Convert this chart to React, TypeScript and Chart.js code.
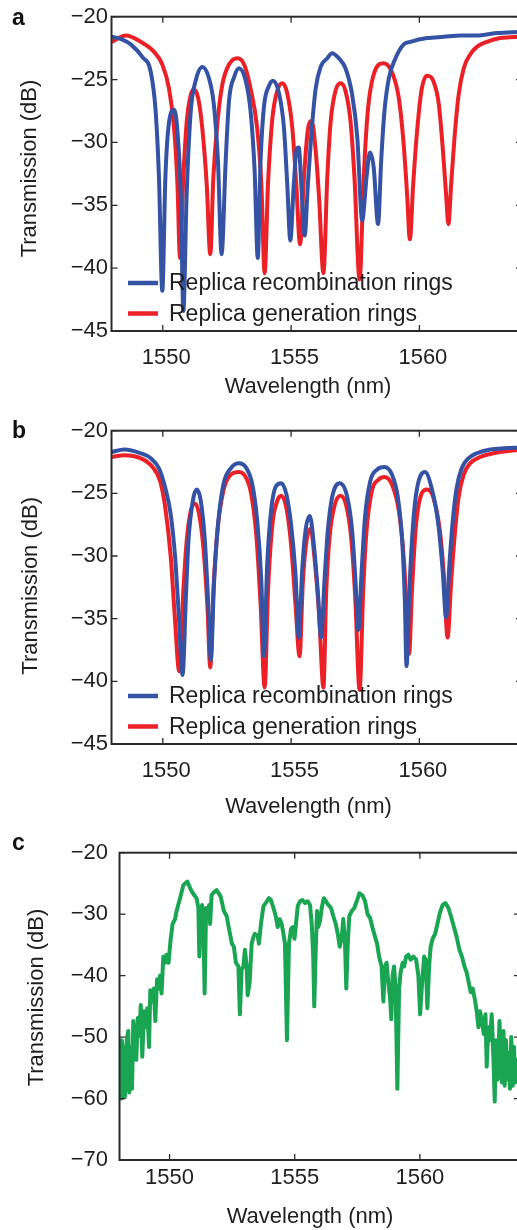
import React, { useEffect, useRef } from "react";
import { Chart, registerables } from "chart.js";

Chart.register(...registerables);

const FONT = '"Liberation Sans", Arial, Helvetica, sans-serif';
const TEXT = "#1e1e1e";
const AXIS = "#2a2a2a";
const BLUE = "#3553a4";
const RED = "#ec2027";
const GREEN = "#19a552";

// ---------- tick labels / categories ----------
const xTickValues = [1550, 1555, 1560];
const yTickValuesAB = [-20, -25, -30, -35, -40, -45];
const yTickValuesC = [-20, -30, -40, -50, -60, -70];
const seriesLabels = ["Replica recombination rings", "Replica generation rings"];

// ---------- panel a ----------
const aRecombWl = [1548.0, 1548.4, 1548.75, 1549.2, 1549.53, 1549.72, 1549.85, 1549.98, 1550.1, 1550.23, 1550.44, 1550.57, 1550.7, 1550.8, 1550.93, 1551.09, 1551.28, 1551.54, 1551.8, 1551.99, 1552.15, 1552.29, 1552.45, 1552.58, 1552.78, 1552.97, 1553.23, 1553.42, 1553.58, 1553.7, 1553.81, 1553.94, 1554.14, 1554.3, 1554.53, 1554.72, 1554.85, 1554.97, 1555.1, 1555.22, 1555.3, 1555.4, 1555.53, 1555.65, 1555.78, 1555.96, 1556.15, 1556.41, 1556.6, 1556.86, 1557.12, 1557.38, 1557.58, 1557.77, 1557.94, 1558.07, 1558.22, 1558.39, 1558.51, 1558.64, 1558.81, 1559.07, 1559.39, 1559.65, 1560.3, 1560.95, 1561.6, 1562.24, 1563.0, 1564.0];
const aRecombT = [-21.6, -21.8, -22.2, -23.2, -24.4, -27.5, -32.8, -41.8, -32.8, -28.6, -27.4, -29.1, -34.1, -43.4, -34.1, -27.5, -25.1, -24.0, -24.9, -27.0, -31.5, -38.9, -31.5, -26.7, -24.8, -24.1, -25.1, -27.5, -32.3, -39.2, -31.5, -27.2, -25.5, -25.1, -26.1, -28.8, -33.3, -37.8, -33.5, -30.5, -30.4, -33.5, -37.4, -33.5, -29.6, -25.7, -24.0, -23.3, -22.9, -23.3, -24.1, -26.2, -29.6, -36.2, -32.8, -30.8, -32.0, -36.5, -31.5, -27.5, -24.9, -23.3, -22.2, -22.0, -21.7, -21.6, -21.5, -21.5, -21.3, -21.2];

const aGenWl = [1548.0, 1548.56, 1549.14, 1549.66, 1549.98, 1550.24, 1550.44, 1550.57, 1550.67, 1550.8, 1550.93, 1551.09, 1551.22, 1551.38, 1551.54, 1551.71, 1551.85, 1551.97, 1552.13, 1552.32, 1552.58, 1552.91, 1553.17, 1553.42, 1553.68, 1553.84, 1553.97, 1554.1, 1554.27, 1554.46, 1554.66, 1554.85, 1555.05, 1555.2, 1555.35, 1555.5, 1555.66, 1555.8, 1555.96, 1556.09, 1556.26, 1556.41, 1556.54, 1556.73, 1556.93, 1557.12, 1557.32, 1557.47, 1557.67, 1557.83, 1557.99, 1558.22, 1558.61, 1558.93, 1559.2, 1559.39, 1559.52, 1559.63, 1559.76, 1559.89, 1560.08, 1560.3, 1560.54, 1560.76, 1560.92, 1561.05, 1561.13, 1561.24, 1561.37, 1561.53, 1561.73, 1561.98, 1562.24, 1562.63, 1563.15, 1564.0];
const aGenT = [-22.0, -21.5, -22.0, -22.8, -23.8, -25.7, -28.9, -33.3, -39.2, -32.8, -28.4, -26.2, -25.8, -26.5, -28.9, -33.3, -38.9, -32.8, -28.4, -25.4, -23.8, -23.3, -23.8, -25.7, -28.9, -33.3, -40.4, -33.3, -28.1, -25.9, -25.3, -26.1, -28.9, -33.3, -38.1, -32.8, -28.9, -28.3, -30.7, -34.4, -40.4, -32.8, -28.4, -25.9, -25.3, -25.9, -28.4, -32.8, -40.9, -32.8, -27.5, -24.6, -23.7, -24.4, -26.5, -30.2, -34.1, -37.7, -33.3, -29.6, -25.9, -24.7, -25.1, -27.0, -30.7, -34.4, -36.5, -33.3, -29.6, -26.2, -24.1, -23.0, -22.4, -22.0, -21.7, -21.6];

// ---------- panel b ----------
const bRecombWl = [1548.0, 1548.5, 1549.14, 1549.53, 1549.85, 1550.1, 1550.31, 1550.48, 1550.62, 1550.77, 1550.9, 1551.0, 1551.17, 1551.32, 1551.48, 1551.64, 1551.77, 1551.87, 1552.0, 1552.15, 1552.36, 1552.65, 1552.97, 1553.23, 1553.49, 1553.68, 1553.84, 1553.94, 1554.07, 1554.23, 1554.42, 1554.62, 1554.82, 1555.0, 1555.17, 1555.3, 1555.43, 1555.56, 1555.73, 1555.91, 1556.04, 1556.17, 1556.3, 1556.43, 1556.6, 1556.9, 1557.19, 1557.38, 1557.51, 1557.62, 1557.75, 1557.88, 1558.09, 1558.35, 1558.64, 1558.93, 1559.16, 1559.33, 1559.43, 1559.5, 1559.6, 1559.71, 1559.87, 1560.22, 1560.48, 1560.74, 1560.91, 1561.04, 1561.17, 1561.3, 1561.45, 1561.65, 1561.91, 1562.24, 1562.76, 1563.28, 1564.0];
const bRecombT = [-21.7, -21.5, -21.8, -22.2, -23.0, -24.6, -26.7, -30.1, -34.6, -39.5, -33.3, -28.8, -25.6, -24.7, -25.6, -28.8, -33.8, -38.3, -32.0, -27.5, -24.3, -23.0, -22.6, -22.9, -24.3, -27.2, -32.0, -38.0, -30.6, -26.2, -24.4, -24.2, -25.1, -27.5, -31.4, -36.5, -31.2, -28.0, -26.8, -29.6, -32.8, -36.5, -32.0, -28.0, -25.3, -24.2, -25.3, -28.0, -32.0, -35.9, -31.2, -26.9, -24.0, -23.1, -22.9, -23.5, -25.3, -28.8, -33.3, -38.8, -33.3, -28.8, -25.1, -23.3, -24.6, -27.5, -31.2, -34.9, -30.7, -27.2, -24.6, -23.0, -22.2, -21.8, -21.5, -21.4, -21.35];

const bGenWl = [1548.0, 1548.5, 1549.14, 1549.6, 1549.9, 1550.1, 1550.31, 1550.46, 1550.64, 1550.8, 1550.93, 1551.09, 1551.25, 1551.41, 1551.58, 1551.74, 1551.85, 1551.97, 1552.13, 1552.36, 1552.65, 1552.97, 1553.23, 1553.45, 1553.65, 1553.81, 1553.97, 1554.1, 1554.27, 1554.46, 1554.62, 1554.82, 1555.0, 1555.17, 1555.33, 1555.46, 1555.6, 1555.76, 1555.91, 1556.09, 1556.26, 1556.37, 1556.5, 1556.69, 1556.93, 1557.15, 1557.34, 1557.5, 1557.67, 1557.81, 1557.94, 1558.15, 1558.41, 1558.64, 1558.93, 1559.2, 1559.39, 1559.52, 1559.6, 1559.71, 1559.87, 1560.04, 1560.3, 1560.54, 1560.8, 1560.95, 1561.1, 1561.24, 1561.37, 1561.53, 1561.73, 1561.98, 1562.37, 1562.89, 1564.0];
const bGenT = [-22.1, -21.95, -22.2, -22.9, -24.05, -26.2, -30.1, -34.6, -39.2, -32.8, -28.8, -26.4, -25.8, -26.6, -29.3, -34.1, -38.9, -32.8, -28.0, -24.8, -23.5, -23.3, -23.7, -25.1, -28.5, -33.8, -40.5, -32.8, -27.5, -25.6, -25.2, -26.2, -29.1, -33.8, -38.0, -32.0, -28.8, -27.8, -30.1, -34.6, -40.5, -32.8, -28.5, -26.0, -25.2, -26.0, -28.5, -33.3, -40.7, -32.8, -28.0, -24.8, -23.9, -23.7, -24.3, -26.4, -30.1, -34.9, -37.8, -32.8, -27.5, -25.3, -24.7, -25.3, -28.0, -31.4, -36.5, -32.0, -28.5, -25.3, -23.5, -22.6, -22.1, -21.8, -21.5];

// ---------- panel c ----------
const cWl = [1548.06, 1548.09, 1548.15, 1548.22, 1548.29, 1548.35, 1548.39, 1548.45, 1548.5, 1548.55, 1548.62, 1548.67, 1548.73, 1548.79, 1548.85, 1548.91, 1548.98, 1549.05, 1549.11, 1549.18, 1549.23, 1549.3, 1549.37, 1549.43, 1549.5, 1549.56, 1549.62, 1549.68, 1549.75, 1549.82, 1549.88, 1549.96, 1550.04, 1550.12, 1550.22, 1550.28, 1550.42, 1550.55, 1550.71, 1550.86, 1550.98, 1551.08, 1551.15, 1551.19, 1551.24, 1551.3, 1551.35, 1551.4, 1551.46, 1551.52, 1551.58, 1551.62, 1551.68, 1551.78, 1551.88, 1552.04, 1552.17, 1552.28, 1552.39, 1552.49, 1552.57, 1552.65, 1552.75, 1552.81, 1552.88, 1552.95, 1553.01, 1553.08, 1553.12, 1553.2, 1553.28, 1553.35, 1553.41, 1553.52, 1553.57, 1553.65, 1553.75, 1553.84, 1553.97, 1554.05, 1554.15, 1554.24, 1554.32, 1554.4, 1554.48, 1554.55, 1554.61, 1554.69, 1554.77, 1554.85, 1554.92, 1554.99, 1555.05, 1555.12, 1555.21, 1555.31, 1555.41, 1555.52, 1555.61, 1555.68, 1555.74, 1555.78, 1555.84, 1555.89, 1555.94, 1556.01, 1556.08, 1556.16, 1556.25, 1556.34, 1556.45, 1556.54, 1556.64, 1556.72, 1556.8, 1556.88, 1556.94, 1557.01, 1557.06, 1557.12, 1557.18, 1557.28, 1557.38, 1557.48, 1557.58, 1557.7, 1557.81, 1557.91, 1558.01, 1558.1, 1558.21, 1558.29, 1558.37, 1558.47, 1558.54, 1558.61, 1558.67, 1558.74, 1558.81, 1558.86, 1558.91, 1558.97, 1559.03, 1559.1, 1559.17, 1559.23, 1559.31, 1559.37, 1559.45, 1559.54, 1559.63, 1559.74, 1559.85, 1559.94, 1560.01, 1560.09, 1560.17, 1560.23, 1560.3, 1560.37, 1560.43, 1560.51, 1560.61, 1560.7, 1560.8, 1560.91, 1561.02, 1561.14, 1561.24, 1561.36, 1561.47, 1561.58, 1561.68, 1561.78, 1561.87, 1561.95, 1562.03, 1562.11, 1562.19, 1562.27, 1562.34, 1562.4, 1562.48, 1562.55, 1562.62, 1562.67, 1562.74, 1562.8, 1562.87, 1562.94, 1562.99, 1563.04, 1563.11, 1563.18, 1563.23, 1563.28, 1563.34, 1563.39, 1563.44, 1563.5, 1563.55, 1563.6, 1563.65, 1563.71, 1563.76, 1563.81, 1563.88, 1564.0];
const cT = [-60.0, -50.5, -52.6, -59.7, -50.5, -49.0, -59.0, -51.6, -58.4, -47.4, -50.5, -53.7, -46.9, -49.8, -44.8, -53.2, -45.8, -48.4, -45.3, -51.6, -42.4, -44.2, -42.1, -47.4, -40.6, -42.1, -40.0, -42.9, -36.9, -37.9, -36.6, -37.9, -34.2, -31.6, -30.8, -29.5, -27.4, -25.3, -24.7, -26.1, -26.9, -27.4, -29.0, -36.9, -29.5, -28.5, -31.6, -42.9, -29.0, -30.6, -28.5, -31.6, -26.9, -26.4, -26.1, -27.1, -29.5, -30.3, -32.7, -34.8, -35.3, -37.9, -38.5, -46.3, -39.0, -38.5, -35.8, -38.5, -43.2, -41.1, -34.8, -33.7, -33.2, -33.5, -34.8, -31.6, -28.7, -28.2, -27.4, -27.7, -29.0, -30.3, -32.1, -30.8, -31.6, -33.2, -34.8, -50.5, -34.8, -32.4, -32.1, -34.0, -31.6, -28.7, -27.9, -27.7, -28.2, -27.9, -28.5, -31.6, -36.9, -45.0, -35.8, -29.5, -32.1, -31.1, -29.0, -27.4, -27.9, -28.5, -29.0, -30.3, -31.6, -33.2, -35.3, -33.7, -30.8, -34.8, -42.1, -34.8, -30.3, -29.5, -29.0, -27.9, -26.6, -26.9, -27.9, -30.0, -30.6, -32.1, -33.7, -34.8, -36.9, -38.5, -44.2, -38.5, -37.9, -41.1, -43.7, -47.1, -40.0, -38.5, -42.1, -58.4, -42.1, -39.5, -37.9, -38.5, -36.9, -36.6, -37.4, -36.9, -37.4, -40.0, -46.3, -41.1, -36.9, -37.4, -45.3, -38.5, -35.3, -34.0, -33.2, -31.6, -29.8, -28.5, -28.2, -29.0, -30.3, -32.1, -33.7, -35.8, -36.9, -38.5, -39.5, -41.1, -42.7, -42.1, -43.7, -45.8, -48.4, -45.8, -47.4, -49.5, -46.3, -54.8, -48.4, -50.5, -46.3, -53.7, -60.5, -50.5, -56.9, -47.4, -53.7, -57.4, -49.0, -57.9, -50.5, -56.9, -52.6, -58.4, -50.0, -57.9, -51.6, -57.4, -53.7, -55.0];

const toPoints = (xs: number[], ys: number[]) => xs.map((x, i) => ({ x, y: ys[i] }));

// ---------- layout (positions/sizes, not data) ----------
const CANVAS_W = 560;

type PanelCfg = {
  key: string;
  top: number;
  height: number;
  plotLeft: number;
  plotRight: number;
  plotTop: number;
  plotBottom: number;
  yMin: number;
  yMax: number;
  yTicks: number[];
  xTickPad: number;
  xLabelOffset: number;
  yTickPad: number;
  letter: [number, number];
  xTitle: [number, number];
  yTitle: [number, number];
  legendRows: number[] | null;
  datasets: any[];
};

const lineDs = (label: string, color: string, xs: number[], ys: number[], width: number, smooth: boolean) => ({
  label,
  data: toPoints(xs, ys),
  borderColor: color,
  backgroundColor: color,
  borderWidth: width,
  pointRadius: 0,
  pointHoverRadius: 0,
  fill: false,
  borderJoinStyle: "round",
  borderCapStyle: "round",
  tension: smooth ? 0.4 : 0,
  cubicInterpolationMode: smooth ? "monotone" : "default",
});

const panels: PanelCfg[] = [
  {
    key: "a",
    top: 0,
    height: 410,
    plotLeft: 111.5,
    plotRight: 522,
    plotTop: 15,
    plotBottom: 331,
    yMin: -45,
    yMax: -20,
    yTicks: yTickValuesAB,
    xTickPad: 13.5,
    xLabelOffset: 3.5,
    yTickPad: 3.5,
    letter: [12, 25],
    xTitle: [308, 386.5],
    yTitle: [30, 168.5],
    legendRows: [48, 17.5],
    datasets: [
      lineDs(seriesLabels[0], BLUE, aRecombWl, aRecombT, 4, true),
      lineDs(seriesLabels[1], RED, aGenWl, aGenT, 4, true),
    ],
  },
  {
    key: "b",
    top: 414,
    height: 410,
    plotLeft: 111.5,
    plotRight: 522,
    plotTop: 15,
    plotBottom: 330,
    yMin: -45,
    yMax: -20,
    yTicks: yTickValuesAB,
    xTickPad: 13.5,
    xLabelOffset: 3.5,
    yTickPad: 3.5,
    letter: [12, 24],
    xTitle: [308.5, 392.5],
    yTitle: [31, 171.8],
    legendRows: [48, 17.5],
    datasets: [
      lineDs(seriesLabels[0], BLUE, bRecombWl, bRecombT, 4, true),
      lineDs(seriesLabels[1], RED, bGenWl, bGenT, 4, true),
    ],
  },
  {
    key: "c",
    top: 828,
    height: 402,
    plotLeft: 119.5,
    plotRight: 520,
    plotTop: 15,
    plotBottom: 332,
    yMin: -70,
    yMax: -20,
    yTicks: yTickValuesC,
    xTickPad: 5,
    xLabelOffset: 0,
    yTickPad: 11.5,
    letter: [12, 22],
    xTitle: [310, 389],
    yTitle: [36.7, 169.5],
    legendRows: null,
    datasets: [lineDs("Transmission", GREEN, cWl, cT, 4, false)],
  },
];

function framePlugin(cfg: PanelCfg) {
  return {
    id: "frame_" + cfg.key,
    afterDatasetsDraw(chart: any) {
      const { ctx, chartArea } = chart;
      const { left, right, top, bottom } = chartArea;
      const xs = chart.scales.x;
      const ys = chart.scales.y;
      const TICK = 6;
      ctx.save();
      // inward tick marks on all four sides
      ctx.strokeStyle = AXIS;
      ctx.lineWidth = 1.3;
      ctx.beginPath();
      xs.ticks.forEach((t: any) => {
        const p = xs.getPixelForValue(t.value);
        ctx.moveTo(p, bottom);
        ctx.lineTo(p, bottom - TICK);
        ctx.moveTo(p, top);
        ctx.lineTo(p, top + TICK);
      });
      ys.ticks.forEach((t: any) => {
        const p = ys.getPixelForValue(t.value);
        ctx.moveTo(left, p);
        ctx.lineTo(left + TICK, p);
        ctx.moveTo(right, p);
        ctx.lineTo(right - TICK, p);
      });
      ctx.stroke();
      // frame
      ctx.lineWidth = 2;
      ctx.strokeRect(left, top, right - left, bottom - top);
      // legend
      if (cfg.legendRows) {
        chart.data.datasets.forEach((ds: any, i: number) => {
          const yy = bottom - cfg.legendRows![i];
          ctx.strokeStyle = ds.borderColor;
          ctx.lineWidth = 4.5;
          ctx.lineCap = "butt";
          ctx.beginPath();
          ctx.moveTo(left + 16.5, yy);
          ctx.lineTo(left + 46.5, yy);
          ctx.stroke();
          ctx.fillStyle = TEXT;
          ctx.font = `23px ${FONT}`;
          ctx.textAlign = "left";
          ctx.textBaseline = "middle";
          ctx.fillText(ds.label, left + 57.5, yy + 1);
        });
      }
      // axis titles
      ctx.fillStyle = TEXT;
      ctx.font = `22px ${FONT}`;
      ctx.textAlign = "center";
      ctx.textBaseline = "middle";
      ctx.fillText("Wavelength (nm)", cfg.xTitle[0], cfg.xTitle[1]);
      ctx.save();
      ctx.translate(cfg.yTitle[0], cfg.yTitle[1]);
      ctx.rotate(-Math.PI / 2);
      ctx.fillText("Transmission (dB)", 0, 0);
      ctx.restore();
      // panel letter
      ctx.fillStyle = "#111";
      ctx.font = `bold 23px ${FONT}`;
      ctx.textAlign = "left";
      ctx.textBaseline = "alphabetic";
      ctx.fillText(cfg.key, cfg.letter[0], cfg.letter[1]);
      ctx.restore();
    },
  };
}

function Panel({ cfg }: { cfg: PanelCfg }) {
  const ref = useRef<HTMLCanvasElement>(null);
  useEffect(() => {
    if (!ref.current) return;
    const xAxisH = cfg.height - cfg.plotBottom;
    const chart = new Chart(ref.current, {
      type: "line",
      data: { datasets: cfg.datasets },
      options: {
        animation: false,
        responsive: false,
        devicePixelRatio: 1,
        events: [],
        layout: {
          padding: { left: 0, top: cfg.plotTop, right: CANVAS_W - cfg.plotRight, bottom: 0 },
        },
        plugins: {
          legend: { display: false },
          tooltip: { enabled: false },
          title: { display: false },
        },
        scales: {
          x: {
            type: "linear",
            min: 1548,
            max: 1564,
            afterBuildTicks: (s: any) => {
              s.ticks = xTickValues.map((v) => ({ value: v }));
            },
            afterFit: (s: any) => {
              s.height = xAxisH;
            },
            grid: { display: false, drawTicks: false, tickLength: 0 },
            border: { display: false },
            ticks: {
              autoSkip: false,
              maxRotation: 0,
              minRotation: 0,
              padding: cfg.xTickPad,
              labelOffset: cfg.xLabelOffset,
              color: TEXT,
              font: { family: FONT, size: 22, lineHeight: 1.2 },
              callback: (v: any) => String(v),
            },
          },
          y: {
            type: "linear",
            min: cfg.yMin,
            max: cfg.yMax,
            afterBuildTicks: (s: any) => {
              s.ticks = cfg.yTicks.map((v) => ({ value: v }));
            },
            afterFit: (s: any) => {
              s.width = cfg.plotLeft;
            },
            grid: { display: false, drawTicks: false, tickLength: 0 },
            border: { display: false },
            ticks: {
              autoSkip: false,
              padding: cfg.yTickPad,
              color: TEXT,
              font: { family: FONT, size: 22, lineHeight: 1.2 },
              callback: (v: any) => String(v).replace("-", "\u2212"),
            },
          },
        },
      } as any,
      plugins: [framePlugin(cfg)],
    });
    return () => chart.destroy();
  }, [cfg]);
  return (
    <canvas
      ref={ref}
      width={CANVAS_W}
      height={cfg.height}
      style={{ position: "absolute", left: 0, top: cfg.top, width: CANVAS_W, height: cfg.height }}
    />
  );
}

export default function App() {
  return (
    <div
      style={{
        position: "absolute",
        left: 0,
        top: 0,
        width: 517,
        height: 1230,
        overflow: "hidden",
        background: "#ffffff",
      }}
    >
      {panels.map((p) => (
        <Panel key={p.key} cfg={p} />
      ))}
    </div>
  );
}
